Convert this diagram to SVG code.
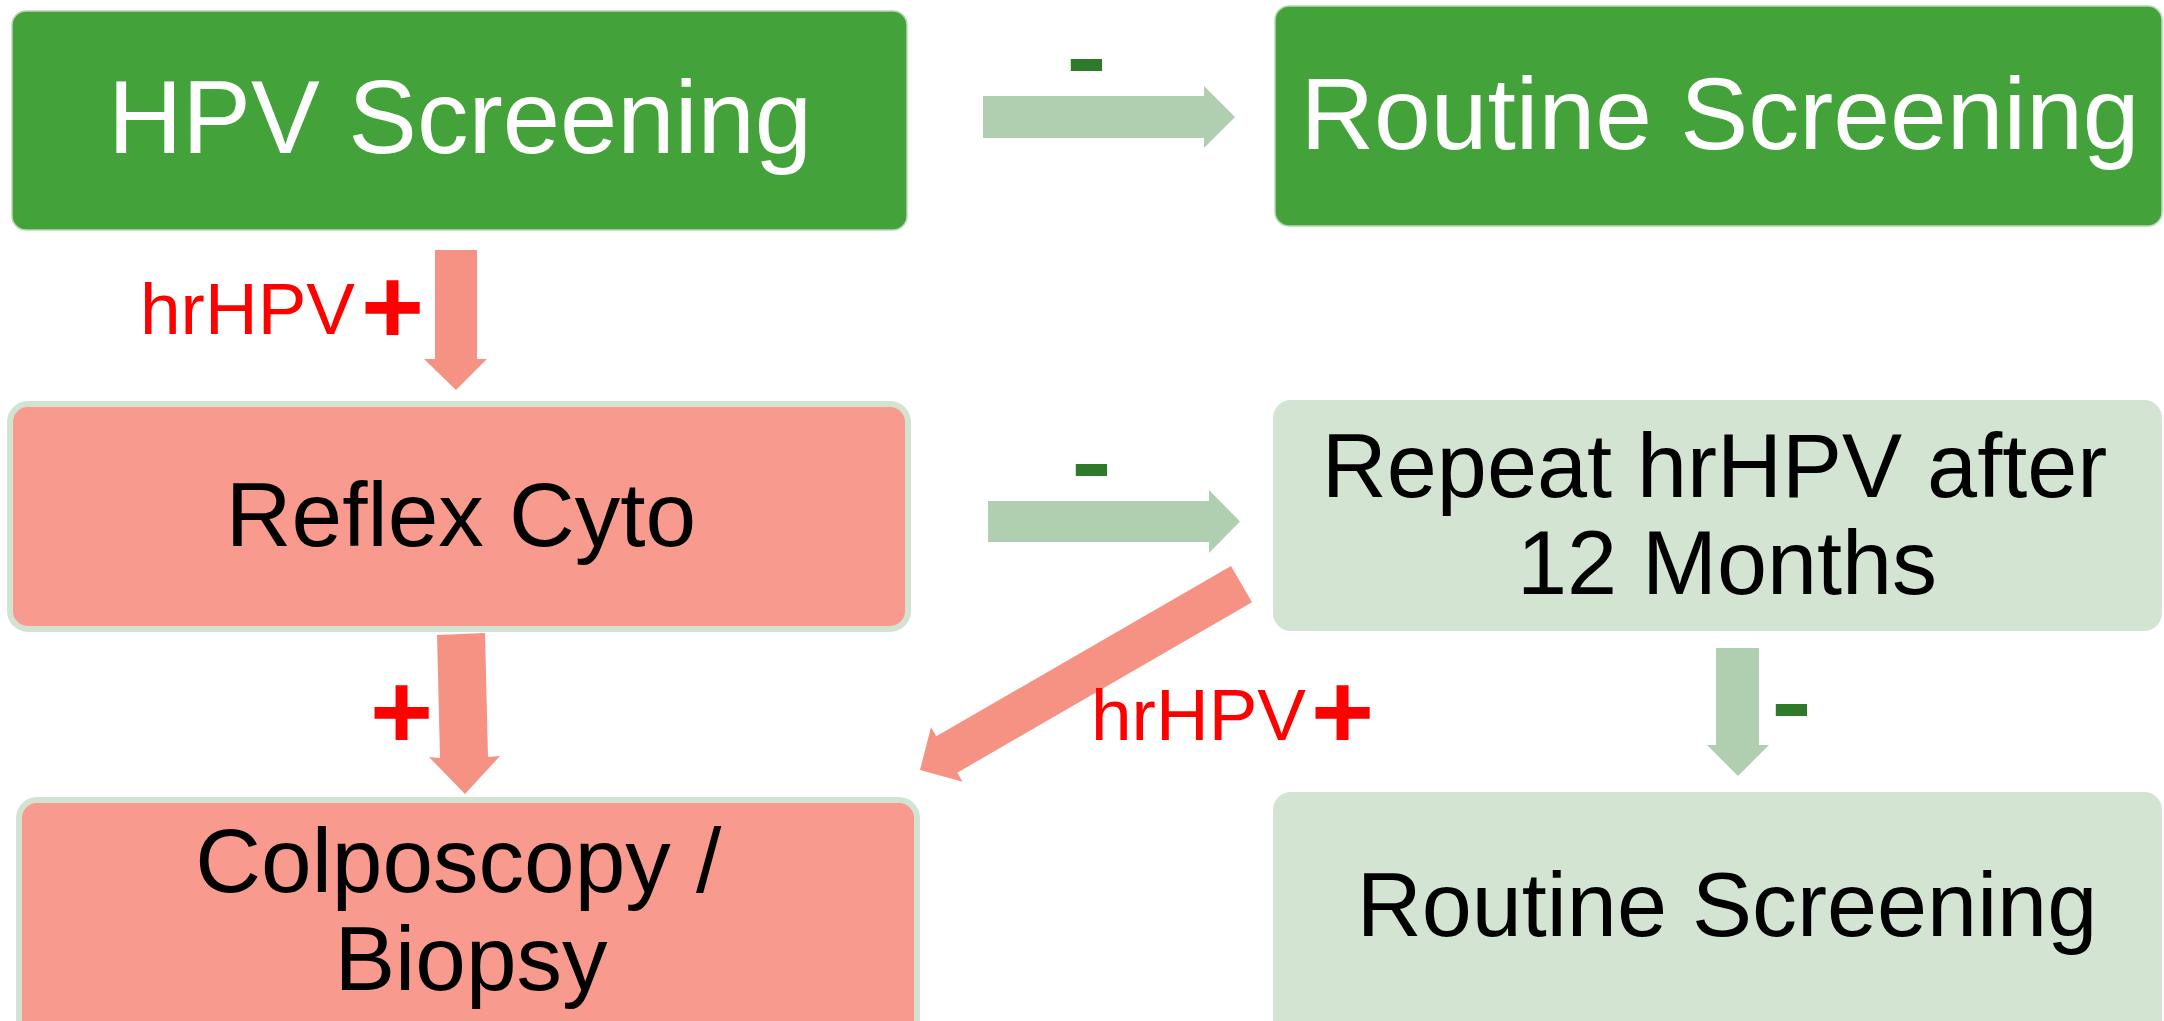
<svg xmlns="http://www.w3.org/2000/svg" width="2164" height="1021" viewBox="0 0 2164 1021">
  <style>
    text { font-family: "Liberation Sans", Arial, sans-serif; }
    .box-dark { fill: #43A33A; stroke: #B8D8B4; stroke-width: 1.5; }
    .box-pos { fill: #F89A8D; stroke: #D2E3D2; stroke-width: 6; }
    .box-neg { fill: #D3E4D3; }
    .t-white { fill: #FFFFFF; text-anchor: middle; }
    .t-black { fill: #000000; text-anchor: middle; }
    .arr-pos { fill: #F69284; }
    .arr-neg { fill: #B0CFB0; }
    .lbl-pos { fill: #FF0000; font-size: 73px; }
    .plus { fill: #FF0000; font-weight: bold; font-size: 108px; }
    .minus { fill: #2E7A2A; font-weight: bold; font-size: 100px; }
  </style>

  <!-- nodes -->
  <g id="hpv-screening">
    <rect class="box-dark" x="12" y="11" width="895" height="219" rx="14"/>
    <text class="t-white" x="460" y="153" font-size="103">HPV Screening</text>
  </g>

  <g id="routine-screening-top">
    <rect class="box-dark" x="1275" y="6" width="887" height="220" rx="14"/>
    <text class="t-white" x="1720" y="149" font-size="102">Routine Screening</text>
  </g>

  <g id="reflex-cyto">
    <rect class="box-pos" x="10" y="404" width="898" height="225" rx="18"/>
    <text class="t-black" x="461" y="546" font-size="91">Reflex Cyto</text>
  </g>

  <g id="repeat-hrhpv">
    <rect class="box-neg" x="1273" y="400" width="889" height="231" rx="18"/>
    <text class="t-black" font-size="90">
      <tspan x="1727" y="497">Repeat hrHPV after</tspan>
      <tspan x="1727" y="594">12 Months</tspan>
    </text>
  </g>

  <g id="colposcopy-biopsy">
    <rect class="box-pos" x="19" y="800" width="898" height="240" rx="18"/>
    <text class="t-black" font-size="91">
      <tspan x="471" y="892">Colposcopy /</tspan>
      <tspan x="471" y="990">Biopsy</tspan>
    </text>
  </g>

  <g id="routine-screening-bottom">
    <rect class="box-neg" x="1273" y="792" width="889" height="250" rx="18"/>
    <text class="t-black" x="1727" y="936" font-size="90">Routine Screening</text>
  </g>

  <!-- connectors -->
  <g id="connectors">
    <!-- HPV Screening negative -> Routine Screening -->
    <polygon class="arr-neg" points="983,96 1204,96 1204,86 1235,117 1204,148 1204,138 983,138"/>
    <text class="minus" x="1066" y="91" textLength="41" lengthAdjust="spacingAndGlyphs">-</text>

    <!-- HPV Screening hrHPV+ -> Reflex Cyto -->
    <polygon class="arr-pos" points="435,250 477,250 477,359 487,359 456,390 424,359 435,359"/>
    <text class="lbl-pos" x="140" y="334">hrHPV</text>
    <text class="plus" x="361" y="343">+</text>

    <!-- Reflex Cyto negative -> Repeat hrHPV -->
    <polygon class="arr-neg" points="988,501 1209,501 1209,490 1240,521.5 1209,553 1209,542 988,542"/>
    <text class="minus" x="1071" y="496" textLength="41" lengthAdjust="spacingAndGlyphs">-</text>

    <!-- Reflex Cyto positive -> Colposcopy / Biopsy -->
    <polygon class="arr-pos" points="437,635 485,633 488,757 500,756 465,794 429,757 440,758"/>
    <text class="plus" x="370" y="748">+</text>

    <!-- Repeat hrHPV hrHPV+ -> Colposcopy / Biopsy -->
    <polygon class="arr-pos" points="1231,566 936.3,736.3 931,727.2 920,770 962.6,781.8 957.3,772.7 1252,602.2"/>
    <text class="lbl-pos" x="1091" y="740">hrHPV</text>
    <text class="plus" x="1311" y="748">+</text>

    <!-- Repeat hrHPV negative -> Routine Screening -->
    <polygon class="arr-neg" points="1716,648 1759,648 1759,745 1769,745 1738,776 1707,745 1716,745"/>
    <text class="minus" x="1771" y="736" textLength="41" lengthAdjust="spacingAndGlyphs">-</text>
  </g>
</svg>
